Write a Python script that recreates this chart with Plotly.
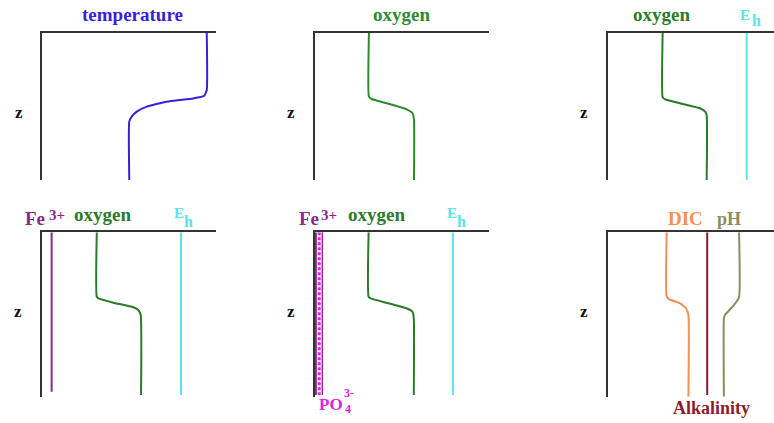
import plotly.graph_objects as go

W, H = 774, 423
FONT = "Liberation Serif, Times New Roman, serif"

# ---------------- data (relative value 0..1, depth 0..1 downward) ----------------
temp_depth = [0, 0.388, 0.429, 0.445, 0.467, 0.501, 0.535, 0.569, 0.603, 1.0]
temp_value = [0.947, 0.947, 0.931, 0.870, 0.717, 0.603, 0.546, 0.517, 0.503, 0.503]

oxy2_depth = [0, 0.433, 0.449, 0.478, 0.519, 0.546, 0.592, 1.0]
oxy2_value = [0.310, 0.310, 0.326, 0.412, 0.527, 0.561, 0.569, 0.569]

oxy3_depth = [0, 0.438, 0.451, 0.478, 0.512, 0.535, 0.558, 1.0]
oxy3_value = [0.316, 0.316, 0.331, 0.416, 0.531, 0.560, 0.569, 0.569]
eh3_depth = [0, 1.0]
eh3_value = [0.799, 0.799]

fe4_depth = [0, 0.970]
fe4_value = [0.057, 0.057]
oxy4_depth = [0, 0.392, 0.404, 0.428, 0.456, 0.473, 0.503, 0.990]
oxy4_value = [0.316, 0.316, 0.330, 0.411, 0.526, 0.554, 0.568, 0.570]
eh4_depth = [0, 0.990]
eh4_value = [0.799, 0.799]

fe5_depth = [0, 0.990]
fe5_value = [0.008, 0.008]
po4_depth = [0, 0.990]
po4_value = [0.027, 0.027]
fe5b_value = [0.045, 0.045]
oxy5_depth = [0, 0.392, 0.404, 0.428, 0.462, 0.483, 0.523, 0.990]
oxy5_value = [0.310, 0.310, 0.326, 0.412, 0.527, 0.561, 0.569, 0.569]
eh5_depth = [0, 0.990]
eh5_value = [0.793, 0.793]

dic_depth = [0, 0.392, 0.408, 0.432, 0.462, 0.503, 1.0]
dic_value = [0.339, 0.339, 0.354, 0.416, 0.450, 0.464, 0.464]
alk_depth = [0, 0.990]
alk_value = [0.572, 0.572]
ph_depth = [0, 0.395, 0.448, 0.503, 0.523, 1.0]
ph_value = [0.755, 0.755, 0.722, 0.674, 0.668, 0.668]

# ---------------- colours ----------------
C_TEMP = "#3b1fd8"
C_OXY = "#2f8a2f"
C_OXY_D = "#2a7a2a"
C_EH = "#55e6f0"
C_FE = "#8a2a8c"
C_PO4 = "#e020e0"
C_DIC = "#f59050"
C_PH = "#8c8c60"
C_ALK = "#8b1c2c"
C_AX = "#333333"

fig = go.Figure()

def px_x(p):
    return p / W

def px_y(p):
    return 1 - p / H

# panel layout: (axis id, x domain px, y domain px, x range max)
panels = [
    (1, (41.5, 216), (33, 180), 1.0),
    (2, (315, 489), (33, 180), 1.0),
    (3, (607.7, 774), (33, 180), 0.956),
    (4, (41.7, 216), (232.3, 396.7), 1.0),
    (5, (314.5, 489), (232.3, 396.7), 1.0),
    (6, (607.7, 774), (232.3, 396.7), 0.956),
]

for pid, xd, yd, xmax in panels:
    sfx = "" if pid == 1 else str(pid)
    fig.layout["xaxis" + sfx] = dict(
        domain=[px_x(xd[0]), min(1, px_x(xd[1]))], range=[0, xmax], side="top",
        showline=True, linecolor=C_AX, linewidth=2, showgrid=False, zeroline=False,
        showticklabels=False, ticks="", anchor="y" + sfx, fixedrange=True)
    fig.layout["yaxis" + sfx] = dict(
        domain=[px_y(yd[1]), px_y(yd[0])], range=[1, 0],
        showline=True, linecolor=C_AX, linewidth=2, showgrid=False, zeroline=False,
        showticklabels=False, ticks="", anchor="x" + sfx, fixedrange=True)

def line(pid, xs, ys, color, width=2, dash=None):
    sfx = "" if pid == 1 else str(pid)
    fig.add_trace(go.Scatter(
        x=xs, y=ys, mode="lines", xaxis="x" + sfx, yaxis="y" + sfx,
        line=dict(color=color, width=width, dash=dash, shape="spline", smoothing=0.4),
        hoverinfo="skip", showlegend=False))

line(1, temp_value, temp_depth, C_TEMP)
line(2, oxy2_value, oxy2_depth, C_OXY)
line(3, oxy3_value, oxy3_depth, C_OXY_D)
line(3, eh3_value, eh3_depth, C_EH)
line(4, fe4_value, fe4_depth, C_FE)
line(4, oxy4_value, oxy4_depth, C_OXY_D)
line(4, eh4_value, eh4_depth, C_EH)
line(5, fe5_value, fe5_depth, C_FE)
line(5, fe5b_value, fe5_depth, C_FE, width=1.5)
line(5, po4_value, po4_depth, C_PO4, width=3, dash="3px,2px")
line(5, oxy5_value, oxy5_depth, C_OXY_D)
line(5, eh5_value, eh5_depth, C_EH)
line(6, dic_value, dic_depth, C_DIC)
line(6, alk_value, alk_depth, C_ALK)
line(6, ph_value, ph_depth, C_PH)

def label(text, x, y, color, size=19, xanchor="center"):
    fig.add_annotation(text="<b>" + text + "</b>", x=px_x(x), y=px_y(y),
                       xref="paper", yref="paper", xanchor=xanchor, yanchor="middle",
                       showarrow=False, font=dict(family=FONT, size=size, color=color))

# titles, top row
label("temperature", 132.7, 14.5, C_TEMP)
label("oxygen", 401.7, 14.5, C_OXY)
label("oxygen", 661, 14.5, C_OXY_D)
label("E", 738, 15.5, C_EH, size=15, xanchor="left")
label("h", 750, 21, C_EH, size=16, xanchor="left")

# bottom row left
label("Fe", 23.3, 218.5, C_FE, xanchor="left")
label("3+", 46.7, 215, C_FE, size=15, xanchor="left")
label("oxygen", 102, 214.5, C_OXY_D)
label("E", 171.7, 213, C_EH, size=15, xanchor="left")
label("h", 181.7, 221.5, C_EH, size=16, xanchor="left")

# bottom row middle
label("Fe", 296.7, 218.5, C_FE, xanchor="left")
label("3+", 319.3, 215, C_FE, size=15, xanchor="left")
label("oxygen", 376, 214.5, C_OXY_D)
label("E", 445, 213, C_EH, size=15, xanchor="left")
label("h", 455, 221.5, C_EH, size=16, xanchor="left")
label("PO", 316.7, 404, C_PO4, size=17, xanchor="left")
label("4", 342.5, 409, C_PO4, size=12, xanchor="left")
label("3-", 342, 393, C_PO4, size=12, xanchor="left")

# bottom row right
label("DIC", 685.8, 218.5, C_DIC)
label("pH", 728.5, 218.5, C_PH, size=18)
label("Alkalinity", 711.5, 408, C_ALK, size=18)

# depth labels
for zx, zy in [(18.8, 112.5), (290.8, 112.5), (584.2, 112.5),
               (18.3, 311.5), (290.8, 311.5), (584.2, 311.5)]:
    label("z", zx, zy, "#111111", size=17)

fig.update_layout(width=W, height=H, margin=dict(l=0, r=0, t=0, b=0),
                  paper_bgcolor="white", plot_bgcolor="white", showlegend=False)

fig.write_html("out.html", config={"displayModeBar": False},
               post_script="document.body.style.margin='0';document.body.style.overflow='hidden';")
